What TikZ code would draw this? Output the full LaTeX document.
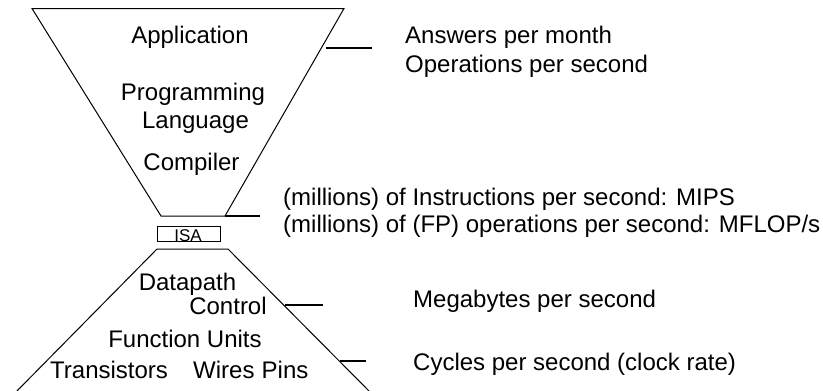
\documentclass[tikz,border=0pt]{standalone}
\usepackage{fontspec}
\setmainfont{Liberation Sans}
\begin{document}
\begin{tikzpicture}[x=1pt,y=-1pt,
  lbl/.style={inner sep=0pt,font=\fontsize{24}{28}\selectfont},
  small/.style={inner sep=0pt,font=\fontsize{17}{20}\selectfont},
  outline/.style={draw=black,line width=1pt,line join=miter},
  tick/.style={draw=black,line width=1.8pt}]
\useasboundingbox (0,0) rectangle (823,391);
% upper funnel
\draw[outline] (32,8.5) -- (344,8.5) -- (225,216) -- (161,216) -- cycle;
% ISA box
\draw[outline] (157,226) rectangle (220,241);
\node[small,anchor=base] (isa) at (188,241.5) {ISA};
% lower trapezoid
\draw[outline] (14,394) -- (157,249) -- (228,249) -- (372,394);
% text inside
\node[lbl,anchor=base] (app) at (190,43) {Application};
\node[lbl,anchor=base] (prog) at (193,100) {Programming};
\node[lbl,anchor=base] (lang) at (195.5,128) {Language};
\node[lbl,anchor=base] (comp) at (191.5,170) {Compiler};
\node[lbl,anchor=base] (dp) at (187.5,290) {Datapath};
\node[lbl,anchor=base] (ctl) at (228,314) {Control};
\node[lbl,anchor=base] (fu) at (185,347) {Function Units};
\node[lbl,anchor=base west] (tr) at (50,378) {Transistors};
\node[lbl,anchor=base west] (wp) at (193,378) {Wires\hspace{0.3em}Pins};
% metric texts
\node[lbl,anchor=base west] (m1) at (405,43) {Answers per month};
\node[lbl,anchor=base west] (m2) at (405,72) {Operations per second};
\node[lbl,anchor=base west] (m3) at (283,205) {(millions) of Instructions per second: MIPS};
\node[lbl,anchor=base west] (m4) at (283,232) {(millions) of (FP) operations per second: MFLOP/s};
\node[lbl,anchor=base west] (m5) at (413,307) {Megabytes per second};
\node[lbl,anchor=base west] (m6) at (413,370) {Cycles per second (clock rate)};
% tick lines
\coordinate (t1a) at (326,48); \coordinate (t1b) at (372,48);
\coordinate (t2a) at (225,216); \coordinate (t2b) at (260,216);
\coordinate (t3a) at (285,305); \coordinate (t3b) at (323,305);
\coordinate (t4a) at (340,361); \coordinate (t4b) at (366,361);
\draw[tick] (t1a) -- (t1b);
\draw[tick] (t2a) -- (t2b);
\draw[tick] (t3a) -- (t3b);
\draw[tick] (t4a) -- (t4b);
\end{tikzpicture}
\end{document}
